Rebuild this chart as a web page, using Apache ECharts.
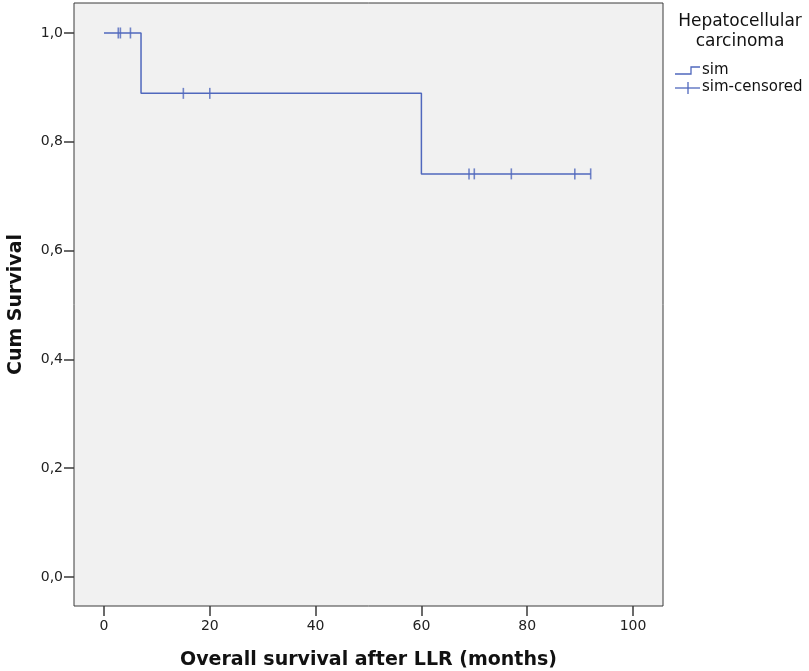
<!DOCTYPE html>
<html>
<head>
<meta charset="utf-8">
<script src="https://cdn.jsdelivr.net/npm/echarts@6/dist/echarts.min.js"></script>
<style>
html,body{margin:0;padding:0;background:#fff;}
#chart{width:809px;height:671px;}
</style>
</head>
<body>
<div id="chart"></div>
<script>
// Kaplan-Meier step points (time in months, cumulative survival)
var stepTimes = [0, 7, 60, 92];
var stepSurvival = [1.0, 0.889, 0.741, 0.741];
// Censored observations
var censorTimes = [2.7, 3.1, 5, 15, 20, 69, 70, 77, 89, 92];
var censorSurvival = [1.0, 1.0, 1.0, 0.889, 0.889, 0.741, 0.741, 0.741, 0.741, 0.741];
// Axis tick values
var xTicks = [0, 20, 40, 60, 80, 100];
var yTicks = [0, 0.2, 0.4, 0.6, 0.8, 1.0];
var groupTitle = ['Hepatocellular', 'carcinoma'];
var seriesNames = ['sim', 'sim-censored'];

var lineColor = '#5068bd';
var font = 'DejaVu Sans';

var chart = echarts.init(document.getElementById('chart'));
chart.setOption({
  animation: false,
  backgroundColor: '#ffffff',
  grid: {
    left: 74, top: 3, width: 589, height: 603,
    containLabel: false, outerBoundsMode: 'none',
    show: true, backgroundColor: '#f1f1f1', borderColor: '#3a3a3a', borderWidth: 1
  },
  xAxis: {
    type: 'value', min: -5.67, max: 105.67,
    name: 'Overall survival after LLR (months)',
    nameLocation: 'middle', nameGap: 45,
    nameTextStyle: { fontFamily: font, fontWeight: 'bold', fontSize: 19, color: '#111' },
    axisLine: { show: false, onZero: false },
    axisTick: { show: true, length: 10, lineStyle: { color: '#3a3a3a', width: 1.5 }, customValues: xTicks },
    axisLabel: { customValues: xTicks, margin: 13, fontFamily: font, fontSize: 14, color: '#222',
      formatter: function (v) { return String(Math.round(v)); } },
    splitLine: { show: false }
  },
  yAxis: {
    type: 'value', min: -0.0533, max: 1.0551,
    name: 'Cum Survival',
    nameLocation: 'middle', nameGap: 48,
    nameTextStyle: { fontFamily: font, fontWeight: 'bold', fontSize: 19, color: '#111' },
    axisLine: { show: false, onZero: false },
    axisTick: { show: true, length: 10, lineStyle: { color: '#3a3a3a', width: 1.5 }, customValues: yTicks },
    axisLabel: { customValues: yTicks, margin: 11, fontFamily: font, fontSize: 14, color: '#222',
      formatter: function (v) { return v.toFixed(1).replace('.', ','); } },
    splitLine: { show: false }
  },
  series: [
    {
      name: seriesNames[0], type: 'line', step: 'end', symbol: 'none',
      lineStyle: { color: lineColor, width: 1.5 },
      data: stepTimes.map(function (t, i) { return [t, stepSurvival[i]]; })
    },
    {
      name: seriesNames[1], type: 'scatter', symbol: 'rect', symbolSize: [1.6, 11],
      itemStyle: { color: lineColor },
      data: censorTimes.map(function (t, i) { return [t, censorSurvival[i]]; })
    }
  ],
  graphic: [
    { type: 'text', style: { text: groupTitle[0], x: 740, y: 13, textAlign: 'center', fontFamily: font, fontSize: 17, fill: '#111' } },
    { type: 'text', style: { text: groupTitle[1], x: 740, y: 33, textAlign: 'center', fontFamily: font, fontSize: 17, fill: '#111' } },
    { type: 'polyline', shape: { points: [[675, 74], [691, 74], [691, 67], [700, 67]] }, style: { stroke: lineColor, lineWidth: 1.3, fill: null } },
    { type: 'text', style: { text: seriesNames[0], x: 702, y: 63, fontFamily: font, fontSize: 15, fill: '#111' } },
    { type: 'line', shape: { x1: 675, y1: 88, x2: 700, y2: 88 }, style: { stroke: lineColor, lineWidth: 1.3 } },
    { type: 'line', shape: { x1: 688, y1: 82, x2: 688, y2: 94 }, style: { stroke: lineColor, lineWidth: 1.3 } },
    { type: 'text', style: { text: seriesNames[1], x: 702, y: 80, fontFamily: font, fontSize: 15, fill: '#111' } }
  ]
});
</script>
</body>
</html>
